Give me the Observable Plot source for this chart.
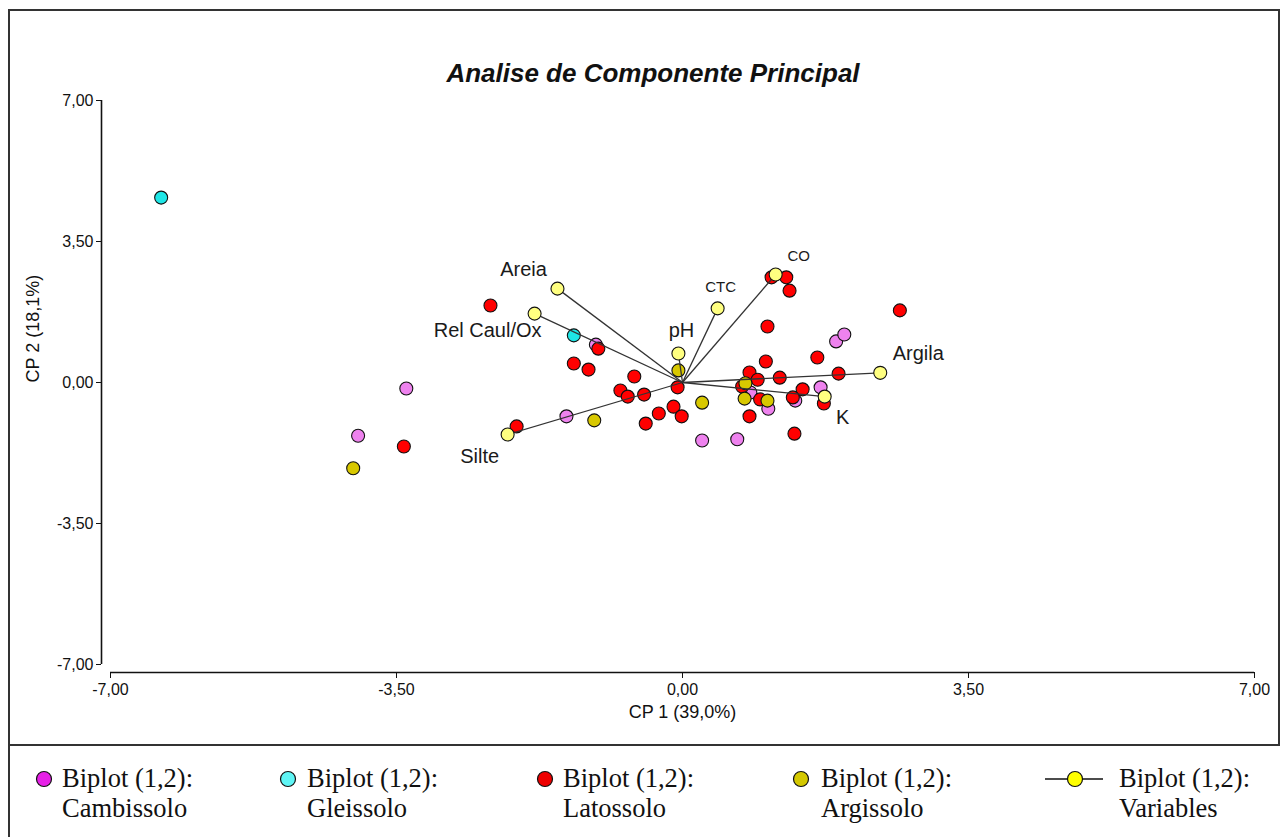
<!DOCTYPE html>
<html>
<head>
<meta charset="utf-8">
<script src="https://cdn.jsdelivr.net/npm/d3@7"></script>
<script src="https://cdn.jsdelivr.net/npm/@observablehq/plot@0.6"></script>
<style>
  body { margin: 0; background: #fff; }
  #wrap { position: relative; width: 1280px; height: 837px; overflow: hidden; font-family: "Liberation Sans", Arial, sans-serif; }
  #chart { position: absolute; left: 0; top: 85px; }
  #frame { position: absolute; left: 8px; top: 9px; width: 1272px; height: 737px; border: 2px solid #333; box-sizing: border-box; pointer-events: none; }
  #frameLeft { position: absolute; left: 8px; top: 745px; width: 2px; height: 92px; background: #333; }
  #title { position: absolute; left: 403px; width: 500px; top: 58px; text-align: center; font: italic bold 26px "Liberation Sans", Arial, sans-serif; color: #111; white-space: nowrap; }
  .leg { position: absolute; top: 763px; font: 26.5px/30px "Liberation Serif", "Times New Roman", serif; color: #111; white-space: nowrap; }
  .sw { position: absolute; overflow: visible; }
</style>
</head>
<body>
<div id="wrap">
  <div id="title">Analise de Componente Principal</div>
  <div id="chart"></div>
  <div id="frame"></div>
  <div id="frameLeft"></div>

  <svg class="sw" style="left:35px;top:770px" width="18" height="18"><circle cx="9" cy="9" r="7.5" fill="#e620e6" stroke="#111" stroke-width="1.2"/></svg>
  <div class="leg" style="left:62px">Biplot (1,2):<br>Cambissolo</div>

  <svg class="sw" style="left:279px;top:770px" width="18" height="18"><circle cx="9" cy="9" r="7.5" fill="#5ff5f5" stroke="#111" stroke-width="1.2"/></svg>
  <div class="leg" style="left:307px">Biplot (1,2):<br>Gleissolo</div>

  <svg class="sw" style="left:536px;top:770px" width="18" height="18"><circle cx="9" cy="9" r="7.5" fill="#ee0000" stroke="#111" stroke-width="1.2"/></svg>
  <div class="leg" style="left:563px">Biplot (1,2):<br>Latossolo</div>

  <svg class="sw" style="left:792px;top:770px" width="18" height="18"><circle cx="9" cy="9" r="7.5" fill="#d4c800" stroke="#111" stroke-width="1.2"/></svg>
  <div class="leg" style="left:821px">Biplot (1,2):<br>Argissolo</div>

  <svg class="sw" style="left:1044px;top:770px" width="62" height="18"><line x1="1" y1="9" x2="59" y2="9" stroke="#111" stroke-width="1.6"/><circle cx="31" cy="9" r="7.5" fill="#ffff00" stroke="#111" stroke-width="1.2"/></svg>
  <div class="leg" style="left:1119px">Biplot (1,2):<br>Variables</div>
</div>

<script>
// ---- Data (CP1, CP2 scores) ----
const cambissolo = [
  [-3.38, -0.15], [-3.97, -1.32], [-1.06, 0.94], [-1.42, -0.84], [0.24, -1.44],
  [0.67, -1.41], [1.88, 1.02], [1.98, 1.19], [1.69, -0.12], [1.38, -0.45],
  [1.05, -0.65], [0.83, -0.25]
];
const gleissolo = [
  [-6.38, 4.59], [-1.33, 1.17]
];
const latossolo = [
  [-2.35, 1.91], [-3.41, -1.59], [-2.03, -1.09], [-1.03, 0.84], [-1.33, 0.47],
  [-1.15, 0.32], [-0.59, 0.15], [-0.76, -0.20], [-0.67, -0.35], [-0.47, -0.30],
  [-0.06, -0.12], [-0.45, -1.02], [-0.29, -0.77], [-0.11, -0.60], [-0.01, -0.84],
  [1.09, 2.61], [1.27, 2.61], [1.31, 2.28], [2.66, 1.79], [1.04, 1.39],
  [1.65, 0.62], [1.02, 0.52], [1.91, 0.22], [0.82, 0.25], [0.92, 0.07],
  [1.19, 0.12], [0.73, -0.10], [1.47, -0.17], [1.35, -0.37], [1.73, -0.52],
  [0.95, -0.42], [0.82, -0.84], [1.37, -1.27]
];
const argissolo = [
  [-4.03, -2.13], [-1.08, -0.94], [-0.05, 0.30], [0.24, -0.50],
  [0.77, -0.02], [0.76, -0.40], [1.04, -0.45]
];
const varNames = ["Areia", "Rel Caul/Ox", "Silte", "pH", "CTC", "CO", "Argila", "K"];
const varX = [-1.53, -1.81, -2.14, -0.05, 0.43, 1.14, 2.42, 1.74];
const varY = [2.33, 1.71, -1.29, 0.72, 1.84, 2.68, 0.24, -0.35];
const xTicks = [-7, -3.5, 0, 3.5, 7];
const yTicks = [-7, -3.5, 0, 3.5, 7];
const xLabel = "CP 1 (39,0%)";
const yLabel = "CP 2 (18,1%)";

// ---- Styling ----
const colors = { camb: "#ee82ee", gleis: "#1ee6e6", lat: "#ff0000", arg: "#d8c800", vars: "#ffff80" };
const labelStyle = {
  "Areia":       { dx: -34, dy: -19, size: 20 },
  "Rel Caul/Ox": { dx: -47, dy: 17, size: 20 },
  "Silte":       { dx: -28, dy: 22, size: 20 },
  "pH":          { dx: 3,   dy: -23, size: 20 },
  "CTC":         { dx: 3,   dy: -21, size: 15 },
  "CO":          { dx: 23,  dy: -18, size: 15 },
  "Argila":      { dx: 38,  dy: -19, size: 20 },
  "K":           { dx: 18,  dy: 21, size: 20 }
};

const fmt = d => d.toFixed(2).replace(".", ",");
const toObj = arr => arr.map(([x, y]) => ({ x, y }));
const vars = varNames.map((name, i) => ({ name, x: varX[i], y: varY[i] }));

const dotOpts = fill => ({ x: "x", y: "y", r: 6.5, fill, stroke: "#111", strokeWidth: 1.1 });

const chart = Plot.plot({
  width: 1280,
  height: 660,
  marginLeft: 110,
  marginRight: 26,
  marginTop: 15,
  marginBottom: 81,
  x: { domain: [-7, 7] },
  y: { domain: [-7, 7] },
  style: { background: "transparent", fontFamily: "'Liberation Sans', Arial, sans-serif", color: "#111", overflow: "visible" },
  marks: [
    Plot.ruleX([-7], { y1: -7, y2: 7, dx: -9, stroke: "#111", strokeWidth: 1.6 }),
    Plot.ruleY([-7], { x1: -7, x2: 7, dy: 8, stroke: "#111", strokeWidth: 1.6 }),
    Plot.axisY(yTicks, { tickFormat: fmt, dx: -9, tickSize: 5, tickPadding: 3, fontSize: 16, label: null, stroke: "#111" }),
    Plot.axisX(xTicks, { tickFormat: fmt, dy: 8, tickSize: 6, tickPadding: 5, fontSize: 16, label: null, stroke: "#111" }),
    Plot.text([xLabel], { frameAnchor: "bottom", dy: 53, fontSize: 18, text: d => d, fill: "#111" }),
    Plot.text([yLabel], { frameAnchor: "left", dx: -77, rotate: -90, fontSize: 18, text: d => d, fill: "#111" }),
    Plot.dot(toObj(cambissolo), dotOpts(colors.camb)),
    Plot.dot(toObj(gleissolo), dotOpts(colors.gleis)),
    Plot.dot(toObj(latossolo), dotOpts(colors.lat)),
    Plot.dot(toObj(argissolo), dotOpts(colors.arg)),
    Plot.link(vars, { x1: 0, y1: 0, x2: "x", y2: "y", stroke: "#333", strokeWidth: 1.3 }),
    Plot.dot(vars, dotOpts(colors.vars)),
    ...vars.map(v => Plot.text([v], {
      x: "x", y: "y", text: "name",
      dx: labelStyle[v.name].dx, dy: labelStyle[v.name].dy,
      fontSize: labelStyle[v.name].size, fill: "#1a1a1a"
    }))
  ]
});

document.getElementById("chart").appendChild(chart);
</script>
</body>
</html>
